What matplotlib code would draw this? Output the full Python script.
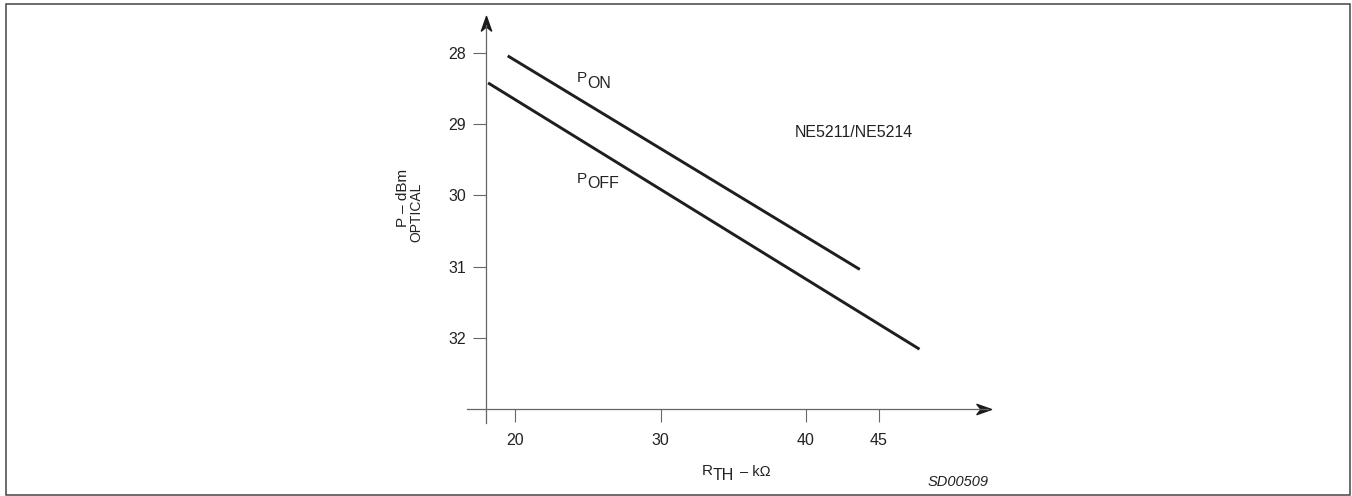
import matplotlib
matplotlib.use("Agg")
import matplotlib.pyplot as plt
from matplotlib.path import Path
from matplotlib.patches import Rectangle

plt.rcParams['font.family'] = ['Liberation Sans', 'DejaVu Sans']

# Данные
R_TH = [20, 30, 40, 45]              # метки по оси X, кОм
P_TICKS = [28, 29, 30, 31, 32]       # метки по оси Y, дБм
P_ON_X = [19.5, 43.7]
P_ON_Y = [28.04, 31.04]
P_OFF_X = [18.15, 47.8]
P_OFF_Y = [28.42, 32.16]

W, H = 1352, 496
AX_COLOR = '#666666'
LINE_COLOR = '#1e1e1e'
TEXT_COLOR = '#222222'

# масштаб: пиксели на единицу данных
X_REF, X_REF_PX, X_SCALE = 20, 515, 14.55
Y_REF, Y_REF_PX, Y_SCALE = 28, 53, 71.2

fig = plt.figure(figsize=(W / 100, H / 100), dpi=100)
ax = fig.add_axes([0, 0, 1, 1])
ax.set_xlim(X_REF - X_REF_PX / X_SCALE, X_REF + (W - X_REF_PX) / X_SCALE)
ax.set_ylim(Y_REF + (H - Y_REF_PX) / Y_SCALE, Y_REF - Y_REF_PX / Y_SCALE)
ax.patch.set_visible(False)


def px(x, y):
    return x / W, 1 - y / H


# оси
ax.spines['top'].set_visible(False)
ax.spines['right'].set_visible(False)
ax.spines['left'].set_position(('data', 18.0))
ax.spines['bottom'].set_position(('data', 33.0))
ax.spines['left'].set_bounds(33.2, 27.6)
ax.spines['bottom'].set_bounds(16.7, 52.5)
for s in ('left', 'bottom'):
    ax.spines[s].set_color(AX_COLOR)
    ax.spines[s].set_linewidth(0.9)

ax.set_xticks(R_TH)
ax.set_yticks(P_TICKS)
ax.tick_params(axis='both', direction='out', length=9.4, width=0.8,
               color=AX_COLOR, labelsize=11.5, labelcolor=TEXT_COLOR)
ax.tick_params(axis='y', pad=5)
ax.tick_params(axis='x', pad=8)

# стрелки на концах осей
up = Path([(0, 0), (0.35, -1), (0, -0.72), (-0.35, -1), (0, 0)],
          [Path.MOVETO, Path.LINETO, Path.LINETO, Path.LINETO, Path.CLOSEPOLY])
right = Path([(0, 0), (-1, 0.35), (-0.72, 0), (-1, -0.35), (0, 0)],
             [Path.MOVETO, Path.LINETO, Path.LINETO, Path.LINETO, Path.CLOSEPOLY])
ax.plot([18.0], [27.48], marker=up, markersize=21, color='#1a1a1a',
        clip_on=False, linestyle='none')
ax.plot([52.7], [33.0], marker=right, markersize=21, color='#1a1a1a',
        clip_on=False, linestyle='none')

# кривые
ax.plot(P_ON_X, P_ON_Y, color=LINE_COLOR, linewidth=2.1, solid_capstyle='butt')
ax.plot(P_OFF_X, P_OFF_Y, color=LINE_COLOR, linewidth=2.1, solid_capstyle='butt')

# подписи
def label(x, y, s, size=11.5, **kw):
    fig.text(*px(x, y), s, fontsize=size, color=TEXT_COLOR, **kw)

label(577, 77.5, 'P', size=11, ha='left', va='center')
label(587, 83, 'ON', ha='left', va='center')
label(577, 179, 'P', size=11, ha='left', va='center')
label(587, 183, 'OFF', ha='left', va='center')
label(795, 133, 'NE5211/NE5214', ha='left', va='center')

label(403, 198, 'P \u2013 dBm', size=11, rotation=90, ha='center', va='center')
label(416, 212, 'OPTICAL', size=10, rotation=90, ha='center', va='center')

label(702, 471, 'R', size=11, ha='left', va='center')
label(712.5, 476, 'TH', size=11.5, ha='left', va='center')
label(740, 471.5, '\u2013 k\u03a9', size=10.5, ha='left', va='center')
label(989, 482, 'SD00509', size=10.5, style='italic', ha='right', va='center')

# рамка
fig.add_artist(Rectangle(px(6, 494.5), (1350 - 6) / W, (494.5 - 4) / H,
                         transform=fig.transFigure, fill=False,
                         linewidth=1.1, edgecolor='#444444'))

fig.savefig('out.png', dpi=100)
